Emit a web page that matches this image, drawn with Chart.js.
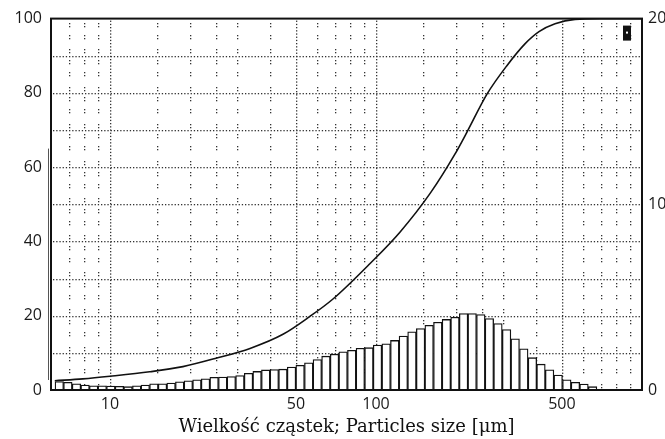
<!DOCTYPE html>
<html><head><meta charset="utf-8">
<script src="https://cdn.jsdelivr.net/npm/chart.js@4/dist/chart.umd.min.js"></script>
<style>html,body{margin:0;padding:0;background:#fff;overflow:hidden}#wrap{position:relative;width:665px;height:439px}</style>
</head><body><div id="wrap"><canvas id="c" width="665" height="439"></canvas></div>
<script>
// Histogram bins (particle size, µm, bin centres) and percentage in each bin (right axis)
const binSizes = [6.446, 6.942, 7.480, 8.060, 8.680, 9.352, 10.07, 10.85, 11.69, 12.60,
  13.57, 14.62, 15.75, 16.97, 18.28, 19.70, 21.22, 22.86, 24.63, 26.53,
  28.58, 30.79, 33.17, 35.73, 38.49, 41.47, 44.67, 48.13, 51.85, 55.86,
  60.17, 64.82, 69.83, 75.23, 81.05, 87.31, 94.06, 101.3, 109.2, 117.6,
  126.7, 136.5, 147.1, 158.4, 170.7, 183.9, 198.1, 213.4, 229.9, 247.7,
  266.8, 287.4, 309.7, 333.6, 359.4, 387.2, 417.1, 449.4, 484.1, 521.6,
  561.9, 605.3, 652.1];
const binPercent = [0.46, 0.41, 0.33, 0.27, 0.23, 0.23, 0.21, 0.20, 0.18, 0.23,
  0.27, 0.33, 0.33, 0.37, 0.44, 0.50, 0.55, 0.60, 0.68, 0.70,
  0.72, 0.78, 0.90, 1.00, 1.08, 1.10, 1.12, 1.24, 1.33, 1.46,
  1.64, 1.82, 1.93, 2.06, 2.14, 2.25, 2.28, 2.42, 2.49, 2.67,
  2.90, 3.13, 3.31, 3.48, 3.65, 3.80, 3.92, 4.12, 4.12, 4.06,
  3.85, 3.58, 3.26, 2.76, 2.22, 1.74, 1.39, 1.09, 0.80, 0.55,
  0.41, 0.32, 0.18];
// Cumulative curve (left axis, %)
const cumSizes = [6.2, 7.9, 10, 14.1, 18.8, 25.2, 33.6, 44.7, 56.4, 68.9, 94.8, 123, 160, 198, 220, 261, 311, 363, 410, 471, 560, 695, 1000];
const cumPercent = [2.5, 3.0, 3.7, 4.9, 6.3, 8.6, 11.2, 15.0, 19.8, 24.5, 34, 42.5, 53, 63.5, 69.5, 79.6, 87.4, 93.2, 96.5, 98.6, 99.8, 100, 100];
// Axis labels
const xTickLabels = [10, 50, 100, 500];
const xMinorGrid = [7, 8, 9, 15, 20, 25, 30, 40, 60, 70, 80, 90, 150, 200, 250, 300, 400, 600, 700, 800, 900];
const leftTickLabels = [0, 20, 40, 60, 80, 100];
const rightTickLabels = [0, 10, 20];
const xTitle = 'Wielkość cząstek; Particles size [μm]';

const isIn = (arr, v) => arr.some(t => Math.abs(t - v) < 1e-6 * Math.max(1, t));

const paperGrid = {
  id: 'paperGrid',
  beforeDatasetsDraw(chart) {
    const {ctx, chartArea: a} = chart;
    const x = chart.scales.x, y = chart.scales.y;
    ctx.save();
    ctx.fillStyle = '#333';
    const step = 3.2, d = 1.3;
    for (let v = 10; v < 100; v += 10) {
      const py = Math.round(y.getPixelForValue(v));
      for (let px = a.left + 2; px < a.right - 1; px += step) ctx.fillRect(px, py, d, d);
    }
    xTickLabels.forEach(v => {
      const px = Math.round(x.getPixelForValue(v));
      for (let py = a.top + 2; py < a.bottom - 1; py += step) ctx.fillRect(px, py, d, d);
    });
    xMinorGrid.forEach(v => {
      const px = Math.round(x.getPixelForValue(v));
      for (let k = 0; k < 10; k++) {
        const y0 = y.getPixelForValue(100 - k * 10), y1 = y.getPixelForValue(90 - k * 10);
        const h = y1 - y0;
        [0.12, 0.44, 0.83].forEach(f => {
          const py = Math.round(y0 + f * h);
          ctx.fillRect(px, py, d, d);
          ctx.fillRect(px, py + 3, d, d);
        });
      }
    });
    ctx.restore();
  },
  afterDatasetsDraw(chart) {
    const {ctx, chartArea: a} = chart;
    ctx.save();
    ctx.strokeStyle = '#111';
    ctx.lineWidth = 2;
    ctx.strokeRect(a.left, a.top, a.right - a.left, a.bottom - a.top);
    ctx.lineWidth = 1;
    ctx.strokeStyle = '#555';
    ctx.beginPath();
    ctx.moveTo(a.left - 2.5, a.top + 130);
    ctx.lineTo(a.left - 2.5, a.bottom - 10);
    ctx.stroke();
    // small marker box top-right
    ctx.fillStyle = '#111';
    ctx.fillRect(a.right - 19, a.top + 7, 8, 15);
    ctx.fillStyle = '#fff';
    ctx.fillRect(a.right - 16, a.top + 13, 2, 2);
    ctx.restore();
  }
};

new Chart(document.getElementById('c'), {
  type: 'bar',
  data: {
    datasets: [
      {
        type: 'line',
        data: cumSizes.map((s, i) => ({x: s, y: cumPercent[i]})),
        yAxisID: 'y',
        borderColor: '#111',
        borderWidth: 1.6,
        pointRadius: 0,
        cubicInterpolationMode: 'monotone',
        fill: false,
        order: 0
      },
      {
        type: 'bar',
        data: binSizes.map((s, i) => ({x: s, y: binPercent[i]})),
        yAxisID: 'y2',
        backgroundColor: '#ffffff',
        borderColor: '#111',
        borderWidth: 1.3,
        barPercentage: 1,
        categoryPercentage: 1,
        order: 1
      }
    ]
  },
  options: {
    responsive: false,
    animation: false,
    devicePixelRatio: 1,
    layout: {padding: {top: 16, left: 0, right: 0, bottom: 0}},
    plugins: {legend: {display: false}, tooltip: {enabled: false}},
    scales: {
      x: {
        type: 'logarithmic', min: 6, max: 1000, position: 'bottom', offset: false,
        grid: {display: false, drawTicks: false, offset: false},
        border: {display: false},
        ticks: {
          autoSkip: false, maxRotation: 0, padding: 5, color: '#1a1a1a',
          font: {family: 'Open Sans', size: 16},
          callback: (v) => isIn(xTickLabels, v) ? String(v) : ''
        },
        title: {display: true, text: xTitle, color: '#111', font: {family: 'DejaVu Serif', size: 18}, padding: {top: 0, bottom: 1}},
        afterFit(s) { s.height = 49; }
      },
      y: {
        position: 'left', min: 0, max: 100,
        grid: {display: false, drawTicks: false},
        border: {display: false},
        ticks: {
          stepSize: 10, autoSkip: false, padding: 9, color: '#1a1a1a',
          font: {family: 'Open Sans', size: 16},
          callback: (v) => isIn(leftTickLabels, v) ? String(v) : ''
        },
        afterFit(s) { s.width = 51; }
      },
      y2: {
        position: 'right', min: 0, max: 20,
        grid: {display: false, drawTicks: false},
        border: {display: false},
        ticks: {
          stepSize: 10, autoSkip: false, padding: 6, color: '#1a1a1a',
          font: {family: 'Open Sans', size: 16},
          callback: (v) => isIn(rightTickLabels, v) ? String(v) : ''
        },
        afterFit(s) { s.width = 23; }
      }
    }
  },
  plugins: [paperGrid]
});
</script>
</body></html>
